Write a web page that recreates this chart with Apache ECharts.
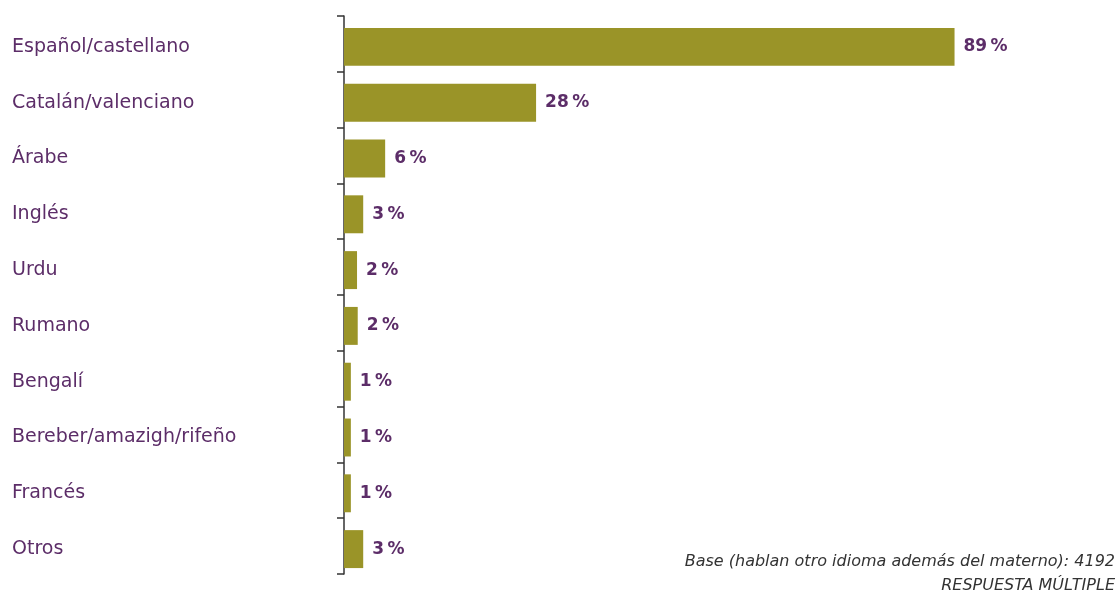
<!DOCTYPE html>
<html>
<head>
<meta charset="utf-8">
<script src="https://cdn.jsdelivr.net/npm/echarts@6/dist/echarts.min.js"></script>
<style>html,body{margin:0;padding:0;background:#fff}#c{width:1119px;height:593px}</style>
</head>
<body>
<div id="c"></div>
<script>
const categories = ['Español/castellano','Catalán/valenciano','Árabe','Inglés','Urdu','Rumano','Bengalí','Bereber/amazigh/rifeño','Francés','Otros'];
const values = [89, 28, 6, 2.8, 1.9, 2.0, 1.0, 1.0, 1.0, 2.8];
const labels = ['89', '28', '6', '3', '2', '2', '1', '1', '1', '3'];
const footnote1 = 'Base (hablan otro idioma además del materno): 4192';
const footnote2 = 'RESPUESTA MÚLTIPLE';

const FONT = 'DejaVu Sans';
const chart = echarts.init(document.getElementById('c'));
chart.setOption({
  animation: false,
  grid: [
    {left: 344, right: 89, top: 16, bottom: 19},
    {left: 344, right: 89, top: 19, bottom: 16}
  ],
  xAxis: [
    {type: 'value', min: 0, max: 100, show: false, gridIndex: 0},
    {type: 'value', min: 0, max: 100, show: false, gridIndex: 1}
  ],
  yAxis: [
    {
      type: 'category', data: categories, inverse: true, gridIndex: 0,
      axisLine: {show: true, lineStyle: {color: '#333', width: 1.5}},
      axisTick: {show: true, length: 7, lineStyle: {color: '#333', width: 1.5}},
      axisLabel: {show: false}
    },
    {
      type: 'category', data: categories, inverse: true, gridIndex: 1,
      axisLine: {show: false}, axisTick: {show: false},
      axisLabel: {align: 'left', margin: 332, color: '#5c2d68', fontSize: 19, fontFamily: FONT}
    }
  ],
  series: [{
    type: 'bar', data: values, barCategoryGap: '32%', xAxisIndex: 1, yAxisIndex: 1,
    itemStyle: {color: '#9a9428'},
    label: {show: true, position: 'right', distance: 9, color: '#5c2d68', fontSize: 17, fontWeight: 'bold', fontFamily: FONT,
      formatter: p => labels[p.dataIndex] + '\u2009%'}
  }],
  graphic: [
    {type: 'text', right: 4, top: 554, style: {text: footnote1, fill: '#333', fontSize: 16, fontStyle: 'italic', fontFamily: FONT, textAlign: 'right'}},
    {type: 'text', right: 4, top: 578, style: {text: footnote2, fill: '#333', fontSize: 16, fontStyle: 'italic', fontFamily: FONT, textAlign: 'right'}}
  ]
});
</script>
</body>
</html>
